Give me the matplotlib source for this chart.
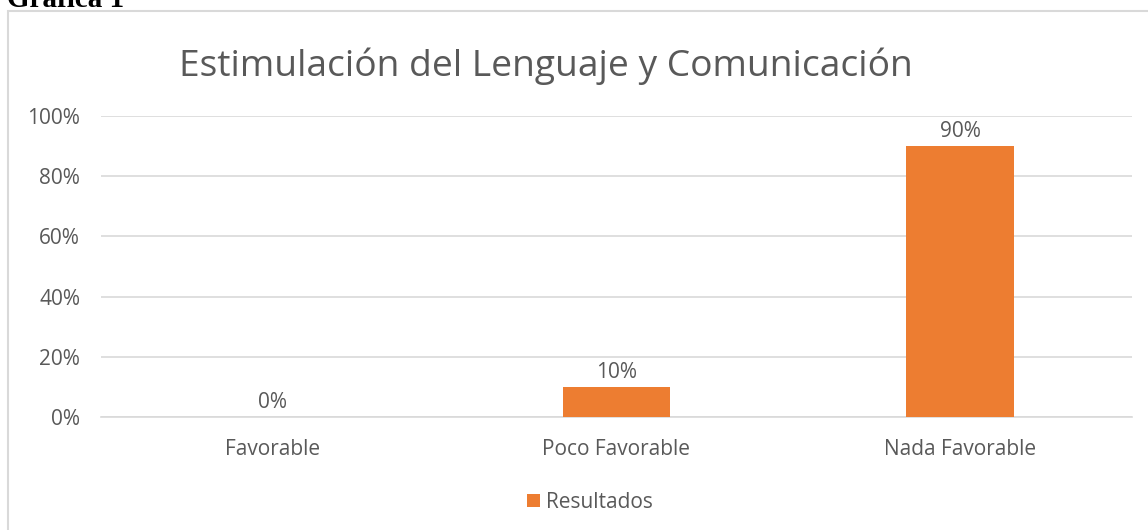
import matplotlib.pyplot as plt
from matplotlib.patches import Rectangle

categories = ["Favorable", "Poco Favorable", "Nada Favorable"]
values = [0.0, 0.10, 0.90]
value_labels = ["0%", "10%", "90%"]
yticks = [0, 0.2, 0.4, 0.6, 0.8, 1.0]
ytick_labels = ["0%", "20%", "40%", "60%", "80%", "100%"]
series_name = "Resultados"

orange = "#ED7D31"
text_grey = "#595959"
grid_grey = "#D9D9D9"

plt.rcParams['font.family'] = ['Open Sans', 'DejaVu Sans']

fig = plt.figure(figsize=(11.48, 5.30), dpi=100)
W, H = 1148, 530

# outer chart frame (runs off the right and bottom of the image)
fig.patches.append(Rectangle((8 / W, -0.1), 1.2, 1 - 11 / H + 0.1,
                             transform=fig.transFigure, fill=False,
                             edgecolor=grid_grey, linewidth=1.5))

# heading of the page, cut off at the top like in the source
fig.text(7 / W, 1 - 7 / H, "Gráfica 1", family="Liberation Serif",
         weight="bold", fontsize=21, color="black", va="baseline", ha="left")

ax = fig.add_axes([101 / W, 1 - 417 / H, (1132 - 101) / W, (417 - 116) / H])
x = range(len(categories))
ax.bar(x, values, width=0.314, color=orange, label=series_name, zorder=3)
for xi, v, lab in zip(x, values, value_labels):
    ax.text(xi, v + 0.012, lab, ha="center", va="bottom", fontsize=15,
            color=text_grey)

ax.set_xlim(-0.5, len(categories) - 0.5)
ax.set_ylim(0, 1.0)
ax.set_yticks(yticks)
ax.set_yticklabels(ytick_labels)
ax.set_xticks(list(x))
ax.set_xticklabels(categories)
ax.tick_params(axis="both", length=0, labelsize=15, colors=text_grey)
ax.tick_params(axis="y", pad=15)
ax.tick_params(axis="x", pad=16)
ax.grid(axis="y", color=grid_grey, linewidth=1.2, zorder=0)
for s in ["top", "right", "left"]:
    ax.spines[s].set_visible(False)
ax.spines["bottom"].set_color(grid_grey)
ax.spines["bottom"].set_linewidth(1.2)

fig.text(546 / W, 1 - 66 / H, "Estimulación del Lenguaje y Comunicación",
         ha="center", va="center", fontsize=26.7, color=text_grey)

leg = fig.legend(loc="center", bbox_to_anchor=(590 / W, 1 - 502 / H),
                 frameon=False, fontsize=15, handlelength=0.6,
                 handleheight=0.6, handletextpad=0.3)
for t in leg.get_texts():
    t.set_color(text_grey)

fig.savefig("out.png", dpi=100)
